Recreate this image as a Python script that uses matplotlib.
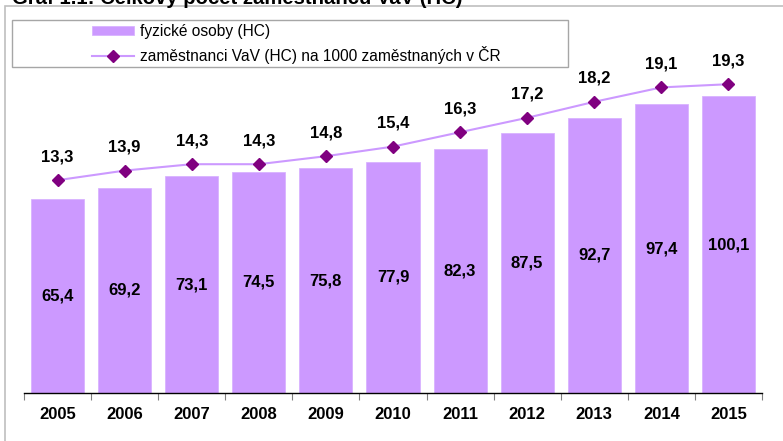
import numpy as np
import matplotlib.pyplot as plt
from matplotlib.patches import Rectangle

plt.rcParams['font.family'] = ['Liberation Sans', 'DejaVu Sans']

# data
years = ['2005', '2006', '2007', '2008', '2009', '2010', '2011', '2012', '2013', '2014', '2015']
fyzicke_osoby = [65.4, 69.2, 73.1, 74.5, 75.8, 77.9, 82.3, 87.5, 92.7, 97.4, 100.1]
na_1000 = [13.3, 13.9, 14.3, 14.3, 14.8, 15.4, 16.3, 17.2, 18.2, 19.1, 19.3]

bar_col = '#CC99FF'
line_col = '#CC99FF'
mark_col = '#800080'

W, H = 783, 441
fig = plt.figure(figsize=(W / 100, H / 100), dpi=100)

# plot area in pixels: left 24, right 762, bottom 393, top 37
ax = fig.add_axes([24 / W, 1 - 393 / H, (762 - 24) / W, (393 - 37) / H])
x = np.arange(len(years))
bars = ax.bar(x, fyzicke_osoby, width=0.79, color=bar_col, edgecolor='#D9B3FF',
              linewidth=0.6, label='fyzické osoby (HC)', zorder=2)
ax.set_xlim(-0.5, len(years) - 0.5)
ax.set_ylim(0, 120)
ax.set_yticks([])
for s in ['left', 'right', 'top']:
    ax.spines[s].set_visible(False)
ax.spines['bottom'].set_color('black')
ax.spines['bottom'].set_linewidth(1.0)

# ticks between categories, labels at centres
ax.set_xticks(np.arange(-0.5, len(years), 1.0))
ax.set_xticklabels([])
ax.tick_params(axis='x', which='major', length=5, color='#808080', width=0.8)
ax.set_xticks(x, minor=True)
ax.set_xticklabels(years, minor=True, fontsize=12, fontweight='bold')
ax.tick_params(axis='x', which='minor', length=0, pad=10)

for xi, v in zip(x, fyzicke_osoby):
    ax.text(xi, v / 2, f'{v:.1f}'.replace('.', ','), ha='center', va='center',
            fontsize=12, fontweight='bold', color='black', zorder=3)

ax2 = ax.twinx()
ax2.set_ylim(0, 22.25)
ax2.set_yticks([])
for s in ax2.spines.values():
    s.set_visible(False)
line, = ax2.plot(x, na_1000, color=line_col, linewidth=1.5, marker='D',
                 markersize=6, markerfacecolor=mark_col, markeredgecolor=mark_col,
                 label='zaměstnanci VaV (HC) na 1000 zaměstnaných v ČR', zorder=4)
for xi, v in zip(x, na_1000):
    ax2.annotate(f'{v:.1f}'.replace('.', ','), (xi, v), xytext=(0, 17),
                 textcoords='offset points', ha='center', va='center',
                 fontsize=12, fontweight='bold', color='black')

# outer chart frame, cut off on the right and bottom
fig.patches.append(Rectangle((5 / W, -0.05), 1.0, 1 - 6 / H + 0.05,
                             transform=fig.transFigure, fill=False,
                             edgecolor='#BFBFBF', linewidth=1.2))
# legend box
fig.patches.append(Rectangle((12 / W, 1 - 67 / H), (568 - 12) / W, 47 / H,
                             transform=fig.transFigure, fill=False,
                             edgecolor='#A6A6A6', linewidth=1.0))
fig.legend([bars, line], [bars.get_label(), line.get_label()],
           loc='center', bbox_to_anchor=(296 / W, 1 - 44 / H),
           frameon=False, fontsize=11.2, handlelength=2.75, handleheight=0.6,
           handletextpad=0.35, labelspacing=0.45, borderaxespad=0)

# title, mostly cut off at the top edge
fig.text(12 / W, 1 - 4 / H, 'Graf 1.1: Celkový počet zaměstnanců VaV (HC)',
         ha='left', va='baseline', fontsize=14.6, fontweight='bold')

fig.savefig('out.png', dpi=100)
